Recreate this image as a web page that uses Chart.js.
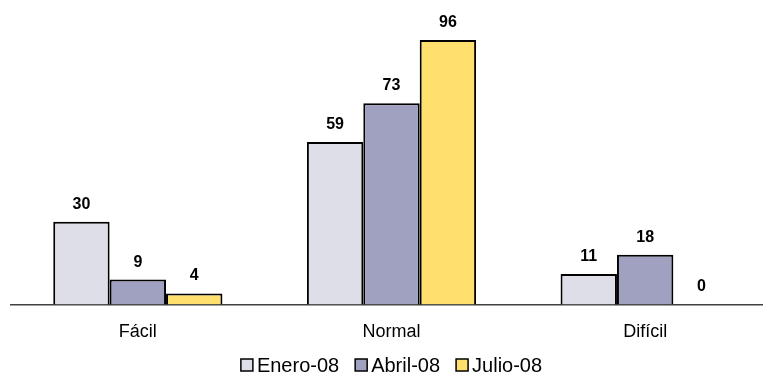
<!DOCTYPE html>
<html>
<head>
  <meta charset="utf-8">
  <title>Dificultad</title>
  <style>
    html, body {
      margin: 0;
      padding: 0;
      background: #ffffff;
      overflow: hidden;
      font-family: "Liberation Sans", Arial, sans-serif;
    }
    .chart-container {
      position: relative;
      width: 783px;
      height: 378px;
    }
  </style>
  <script src="https://cdn.jsdelivr.net/npm/chart.js"></script>
</head>
<body>
  <div class="chart-container">
    <canvas id="difChart"></canvas>
  </div>
  <script>
    const categories = ['Fácil', 'Normal', 'Difícil'];
    const seriesNames = ['Enero-08', 'Abril-08', 'Julio-08'];
    const enero = [30, 59, 11];
    const abril = [9, 73, 18];
    const julio = [4, 96, 0];
    const colors = ['#dedee9', '#a0a0c0', '#ffe06e'];

    const FONT = '"Liberation Sans", Arial, sans-serif';

    // draw the value above each bar
    const valueLabels = {
      id: 'valueLabels',
      afterDatasetsDraw(chart) {
        const ctx = chart.ctx;
        ctx.save();
        ctx.font = 'bold 16px ' + FONT;
        ctx.fillStyle = '#000';
        ctx.textAlign = 'center';
        ctx.textBaseline = 'alphabetic';
        chart.data.datasets.forEach((ds, i) => {
          chart.getDatasetMeta(i).data.forEach((bar, j) => {
            ctx.fillText(String(ds.data[j]), bar.x, bar.y - 13);
          });
        });
        ctx.restore();
      }
    };

    // compact legend under the axis, centred on the plot
    const bottomLegend = {
      id: 'bottomLegend',
      afterDraw(chart) {
        const ctx = chart.ctx;
        const box = 12, gap = 4, spacing = 16, cy = 365;
        ctx.save();
        ctx.font = '20px ' + FONT;
        ctx.textBaseline = 'middle';
        const items = chart.data.datasets.map(ds => ({
          ds, w: box + gap + ctx.measureText(ds.label).width
        }));
        const total = items.reduce((s, it) => s + it.w, 0) + spacing * (items.length - 1);
        let x = (chart.chartArea.left + chart.chartArea.right) / 2 - total / 2;
        items.forEach(it => {
          ctx.fillStyle = it.ds.backgroundColor;
          ctx.fillRect(x, cy - box / 2, box, box);
          ctx.strokeStyle = '#000';
          ctx.lineWidth = 1.5;
          ctx.strokeRect(x, cy - box / 2, box, box);
          ctx.fillStyle = '#000';
          ctx.fillText(it.ds.label, x + box + gap, cy + 1);
          x += it.w + spacing;
        });
        ctx.restore();
      }
    };

    new Chart(document.getElementById('difChart').getContext('2d'), {
      type: 'bar',
      data: {
        labels: categories,
        datasets: [
          { label: seriesNames[0], data: enero, backgroundColor: colors[0] },
          { label: seriesNames[1], data: abril, backgroundColor: colors[1] },
          { label: seriesNames[2], data: julio, backgroundColor: colors[2] }
        ]
      },
      options: {
        responsive: true,
        maintainAspectRatio: false,
        animation: false,
        datasets: {
          bar: {
            borderColor: '#000',
            borderWidth: 2,
            borderSkipped: 'bottom',
            categoryPercentage: 0.667,
            barPercentage: 1
          }
        },
        layout: { padding: { left: 11, right: 11, top: 29, bottom: 18 } },
        scales: {
          x: {
            grid: { display: false, drawTicks: false },
            border: { display: true, color: '#404040', width: 1.5 },
            ticks: {
              color: '#000',
              padding: 17,
              font: { family: FONT, size: 18 }
            }
          },
          y: {
            display: false,
            min: 0,
            max: 100
          }
        },
        plugins: {
          legend: { display: false },
          tooltip: { enabled: false }
        }
      },
      plugins: [valueLabels, bottomLegend]
    });
  </script>
</body>
</html>
